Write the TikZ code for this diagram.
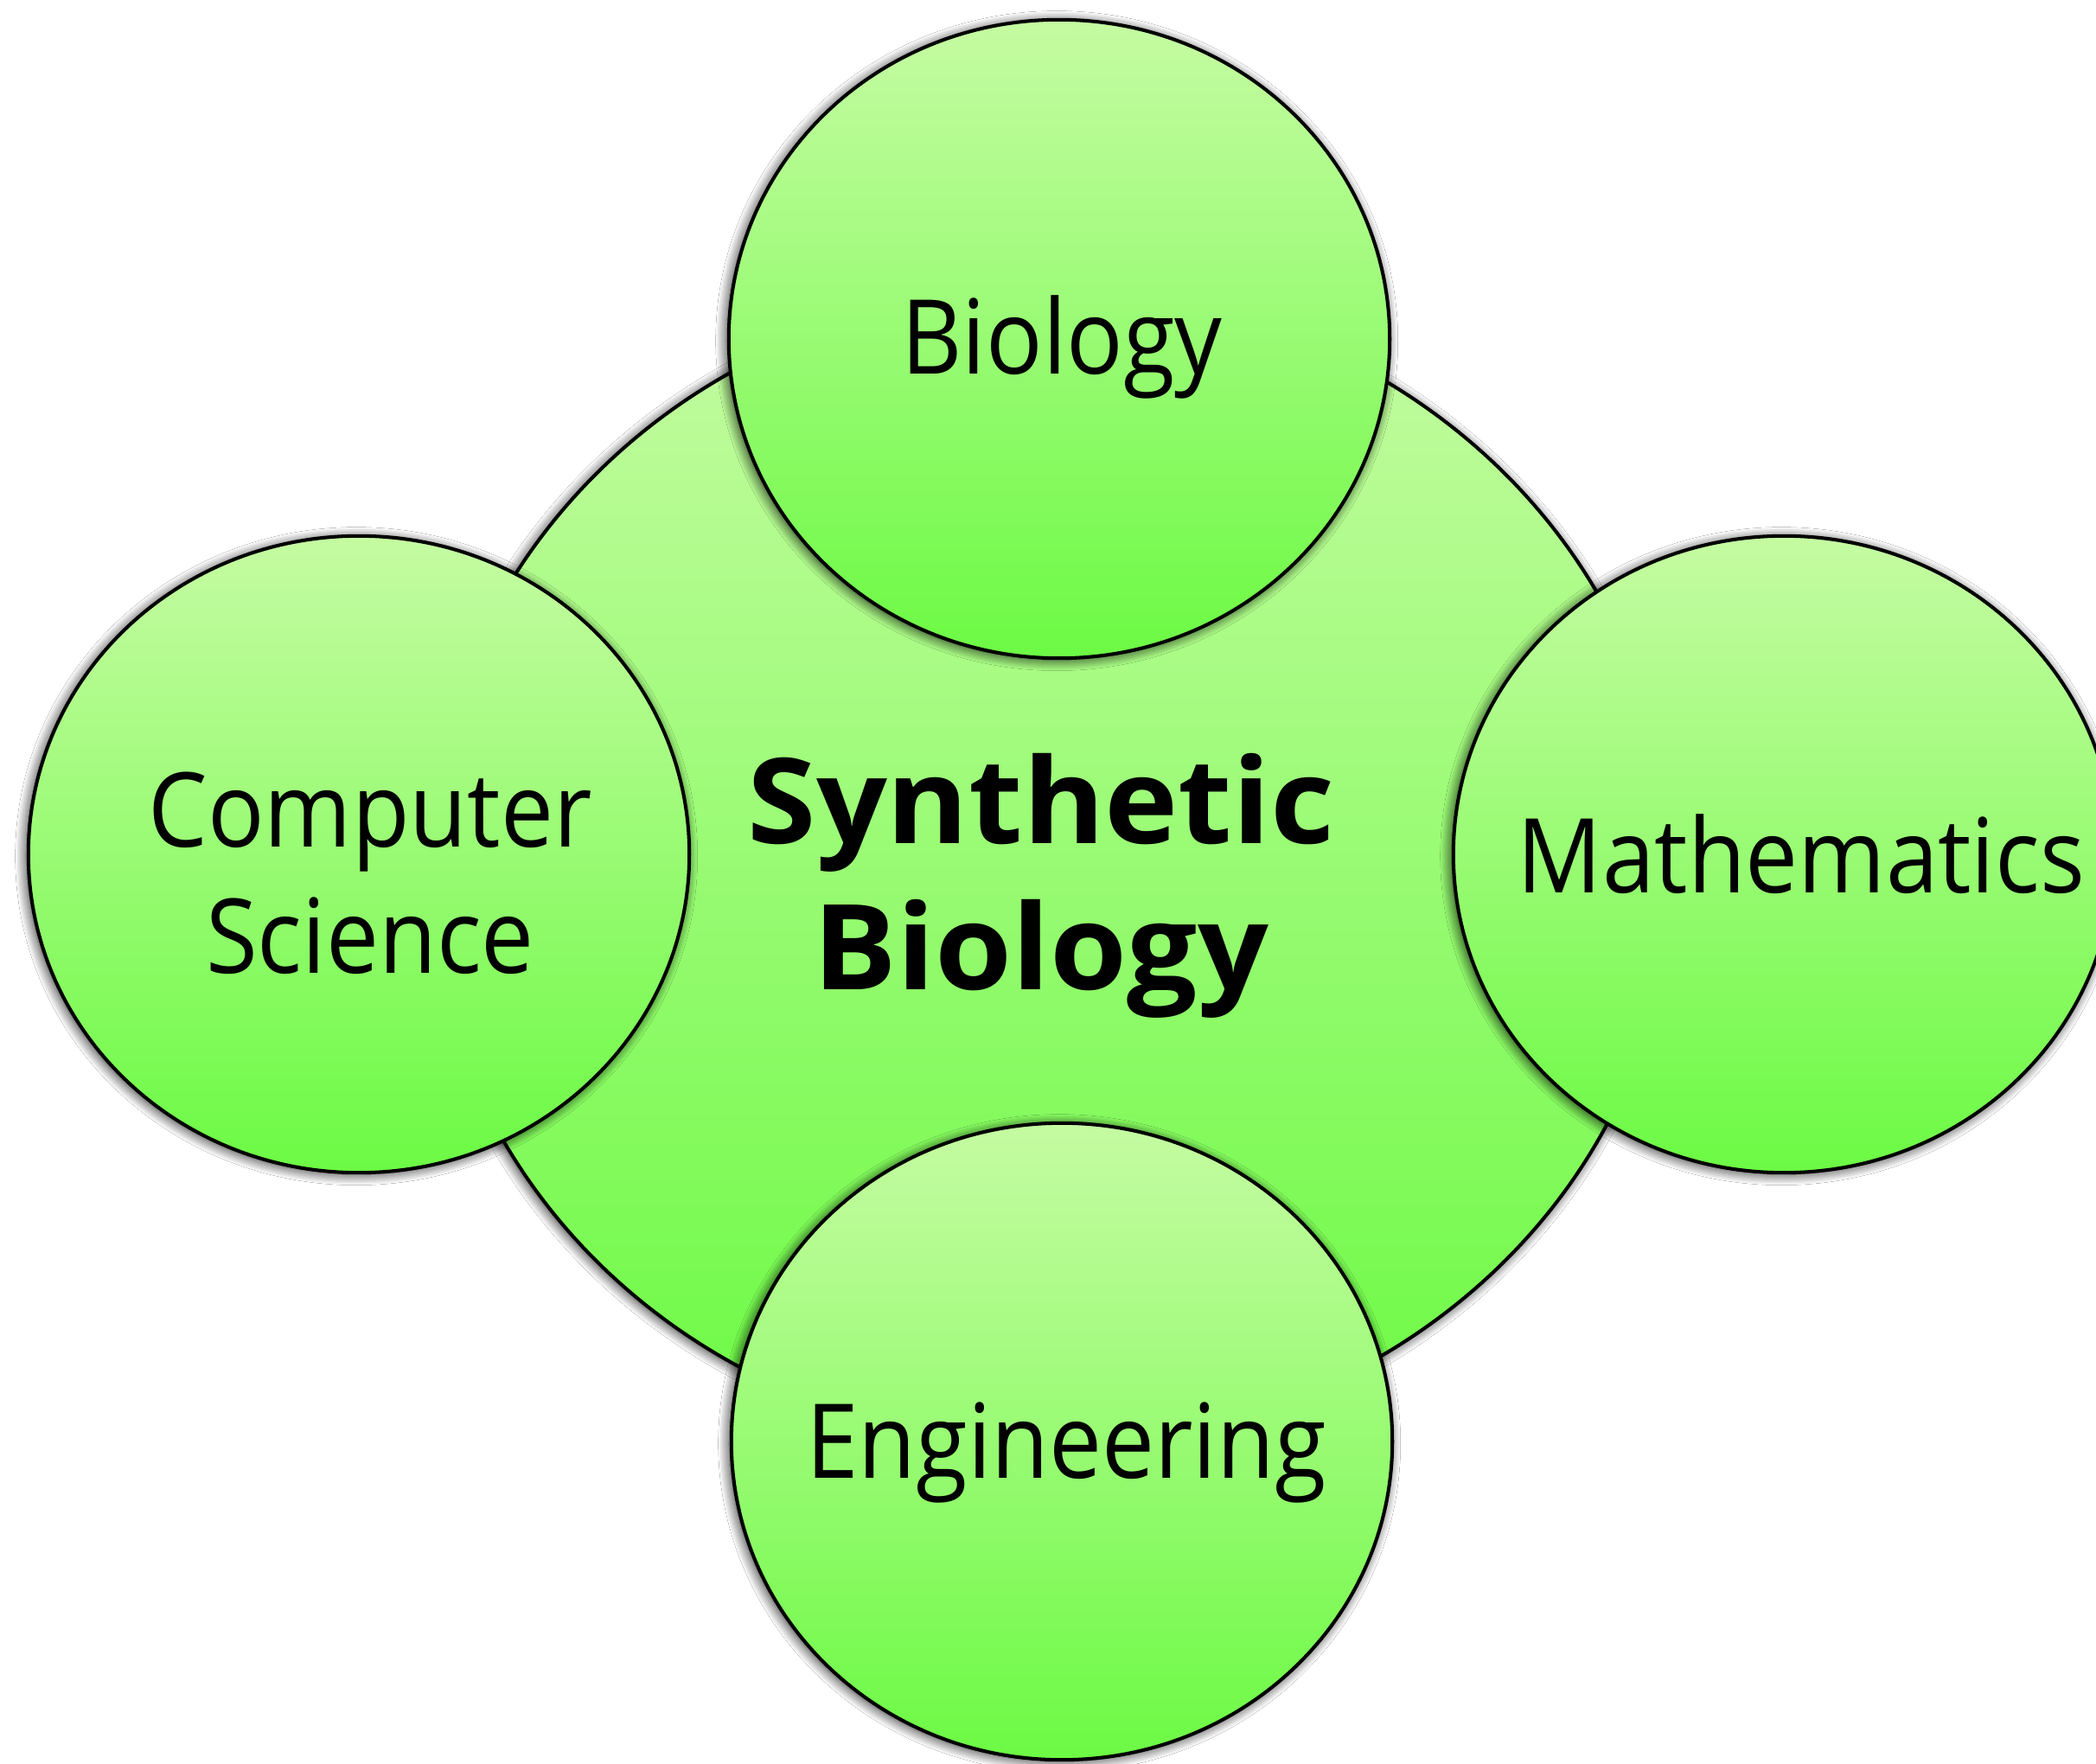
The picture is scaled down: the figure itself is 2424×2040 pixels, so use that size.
\documentclass[tikz,border=0pt]{standalone}
\usepackage{fontspec}
\setmainfont{Open Sans}
\newfontfamily\labelfont{Open Sans}[FakeStretch=0.91]
\newfontfamily\titlefont{Open Sans}[FakeStretch=1.05]
\usetikzlibrary{shapes.geometric,shadows.blur}
\definecolor{gtop}{RGB}{197,251,162}
\definecolor{gbot}{RGB}{108,250,68}
\tikzset{
  bubble/.style={ellipse, draw=black, line width=1.15pt, top color=gtop, bottom color=gbot,
    inner sep=0pt, outer sep=0pt,
    blur shadow={shadow xshift=-0.8pt, shadow yshift=-0.6pt, shadow blur radius=3.5pt,
      shadow blur steps=12, shadow opacity=85}},
  lbl/.style={font=\labelfont\fontsize{34}{41.5}\selectfont, align=center, anchor=base, inner sep=0pt},
  ttl/.style={font=\titlefont\bfseries\fontsize{39}{47.8}\selectfont, align=center, anchor=base, inner sep=0pt},
}
\begin{document}
\begin{tikzpicture}[x=0.01cm, y=-0.01cm]
\useasboundingbox (0,0) rectangle (2424,2040);
\fill[white] (0,0) rectangle (2424,2040);
% central circle
\node[bubble, minimum width=14.36cm, minimum height=13.34cm] (syn) at (1215,1003) {};
% satellites
\node[bubble, minimum width=7.64cm, minimum height=7.38cm] (bio) at (1225,392) {};
\node[bubble, minimum width=7.64cm, minimum height=7.36cm] (cs) at (415,988) {};
\node[bubble, minimum width=7.64cm, minimum height=7.36cm] (math) at (2063,988) {};
\node[bubble, minimum width=7.64cm, minimum height=7.36cm] (eng) at (1228,1667) {};
% labels (base anchor of a multi-line node = baseline of its last line)
\node[ttl] (tsyn) at (1204,1144) {Synthetic\\Biology};
\node[lbl] (tbio) at (1228,433) {Biology};
\node[lbl] (tcs) at (428,1125) {Computer\\Science};
\node[lbl] (tmath) at (2083,1032) {Mathematics};
\node[lbl] (teng) at (1233,1709) {Engineering};
\end{tikzpicture}
\end{document}
